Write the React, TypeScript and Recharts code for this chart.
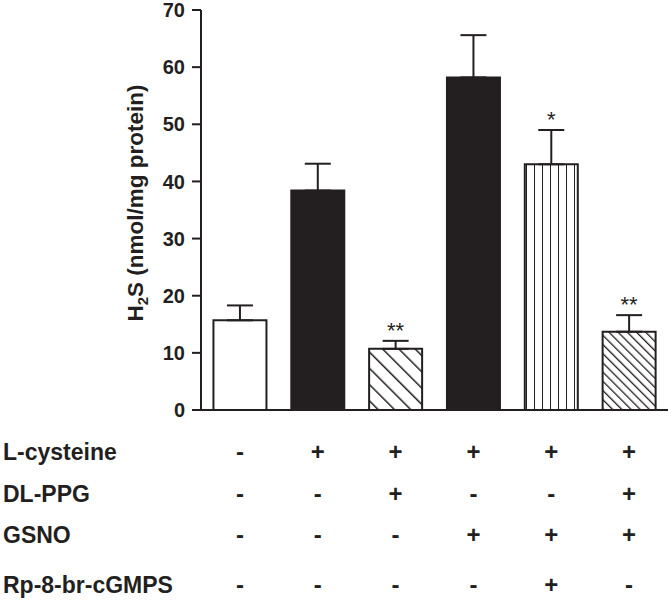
import { BarChart, Bar, XAxis, YAxis, ErrorBar, Cell, LabelList } from "recharts";

// treatment groups (one per bar)
const groups = ["ctrl", "lcys", "lcys+ppg", "lcys+gsno", "lcys+gsno+rp", "lcys+ppg+gsno"];
const h2sValues = [15.7, 38.4, 10.7, 58.2, 43.0, 13.7];
const h2sErrors = [2.6, 4.7, 1.4, 7.4, 6.0, 2.9];
const significance = ["", "", "**", "", "*", "**"];

// treatment table under the x axis
const rowNames = ["L-cysteine", "DL-PPG", "GSNO", "Rp-8-br-cGMPS"];
const lCysteine = ["-", "+", "+", "+", "+", "+"];
const dlPpg = ["-", "-", "+", "-", "-", "+"];
const gsno = ["-", "-", "-", "+", "+", "+"];
const rp8br = ["-", "-", "-", "-", "+", "-"];
const rows = [lCysteine, dlPpg, gsno, rp8br];

const yTicks = [0, 10, 20, 30, 40, 50, 60, 70];

const data = groups.map((g, i) => ({
  group: g,
  value: h2sValues[i],
  err: [0, h2sErrors[i]],
  sig: significance[i],
}));

const INK = "#231f20";
const FONT = "'Liberation Sans', Arial, sans-serif";
const fills = ["#ffffff", INK, "url(#hatchWide)", INK, "url(#vstripes)", "url(#hatchDense)"];

// baseline offsets of each table row below the x axis
const rowOffsets = [50, 92, 133, 183];

const TableTick = (props: any) => {
  const { x, y, index } = props;
  return (
    <g>
      {index === 0 &&
        rowNames.map((name, r) => (
          <text key={name} x={3} y={y + rowOffsets[r]} fontFamily={FONT} fontWeight="bold" fontSize={23} fill={INK}>
            {name}
          </text>
        ))}
      {rows.map((row, r) => (
        <text
          key={r}
          x={x}
          y={y + rowOffsets[r]}
          textAnchor="middle"
          fontFamily={FONT}
          fontWeight="bold"
          fontSize={24}
          fill={INK}
        >
          {row[index]}
        </text>
      ))}
    </g>
  );
};

const SigLabel = (props: any) => {
  const { x, y, width, height, value, index } = props;
  const mark = significance[index];
  if (!mark) return null;
  const pxPerUnit = height / value;
  const errTop = y - h2sErrors[index] * pxPerUnit;
  return (
    <text x={x + width / 2} y={errTop - 3} textAnchor="middle" fontFamily={FONT} fontSize={22} fill={INK}>
      {mark}
    </text>
  );
};

const YTitle = () => (
  <text
    transform="translate(143, 203) rotate(-90)"
    textAnchor="middle"
    fontFamily={FONT}
    fontWeight="bold"
    fontSize={22.5}
    fill={INK}
  >
    <tspan>H</tspan>
    <tspan dy={5} fontSize={15}>2</tspan>
    <tspan dy={-5}>S (nmol/mg protein)</tspan>
  </text>
);

export default function App() {
  return (
    <div style={{ position: "absolute", left: 0, top: 0, background: "#fff" }}>
      <BarChart
        width={672}
        height={605}
        data={data}
        margin={{ top: 10, right: 4, bottom: 0, left: 0 }}
        barCategoryGap="16%"
      >
        <defs>
          <pattern id="hatchWide" patternUnits="userSpaceOnUse" width={11.5} height={11.5} patternTransform="rotate(-45)">
            <rect width={11.5} height={11.5} fill="#fff" />
            <line x1={0} y1={0} x2={0} y2={11.5} stroke={INK} strokeWidth={3} />
          </pattern>
          <pattern id="hatchDense" patternUnits="userSpaceOnUse" width={6.5} height={6.5} patternTransform="rotate(-45)">
            <rect width={6.5} height={6.5} fill="#fff" />
            <line x1={0} y1={0} x2={0} y2={6.5} stroke={INK} strokeWidth={2.6} />
          </pattern>
          <pattern id="vstripes" patternUnits="userSpaceOnUse" width={8} height={10} x={526}>
            <rect width={8} height={10} fill="#fff" />
            <line x1={0} y1={0} x2={0} y2={10} stroke={INK} strokeWidth={2} />
          </pattern>
        </defs>
        <XAxis
          dataKey="group"
          height={195}
          stroke={INK}
          strokeWidth={2}
          tickLine={false}
          tickSize={0}
          tickMargin={0}
          interval={0}
          tick={<TableTick />}
        />
        <YAxis
          width={201}
          domain={[0, 70]}
          ticks={yTicks}
          interval={0}
          stroke={INK}
          strokeWidth={2}
          tickSize={9}
          tickMargin={7}
          tick={{ fill: INK, fontFamily: FONT, fontWeight: "bold", fontSize: 20 }}
          label={<YTitle />}
        />
        <Bar dataKey="value" stroke={INK} strokeWidth={2} isAnimationActive={false}>
          {data.map((d, i) => (
            <Cell key={d.group} fill={fills[i]} />
          ))}
          <ErrorBar dataKey="err" width={13} stroke={INK} strokeWidth={2} direction="y" />
          <LabelList dataKey="value" content={<SigLabel />} />
        </Bar>
      </BarChart>
    </div>
  );
}
